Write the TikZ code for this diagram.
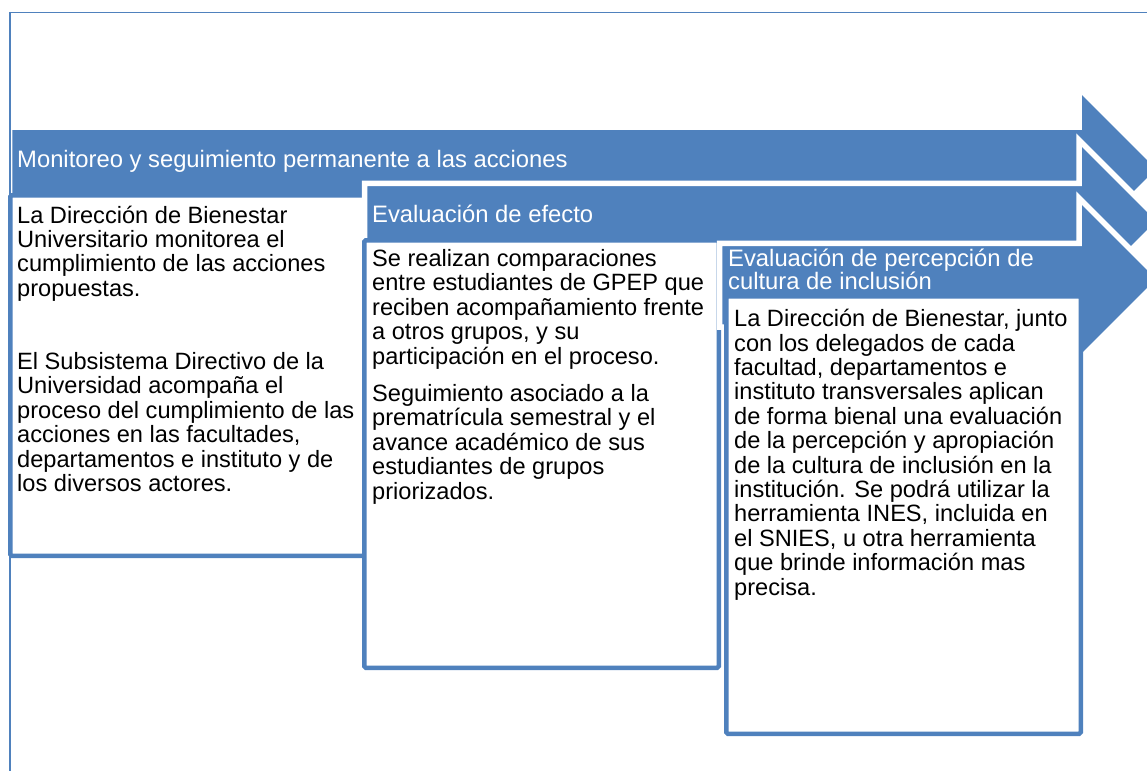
\documentclass[tikz,border=0pt]{standalone}
\usepackage{fontspec}
\setmainfont{Liberation Sans}
\definecolor{stageblue}{HTML}{4F81BD}

\begin{document}
\begin{tikzpicture}[
        x=1pt, y=-1pt,
        % Define Styles
        arrowshape/.style={fill=stageblue, draw=white, line width=5.5pt, line join=miter},
        textbox/.style={draw=stageblue, fill=white, line width=4.5pt, rounded corners=1.5pt},
        frameline/.style={draw=stageblue},
        stagetitle/.style={anchor=base west, inner sep=0pt, text=white, align=left, font=\fontsize{23.8}{22.6}\selectfont},
        stagetext/.style={anchor=base west, inner sep=0pt, text=black, align=left, font=\fontsize{23.6}{24.4}\selectfont}
    ]

    \useasboundingbox (0,0) rectangle (1147,771);
    \clip (0,0) rectangle (1147,771);

    % --- STAGE 1 ---
    \filldraw[arrowshape] (9.5,127) -- (1079,127) -- (1079,88) -- (1160,169) -- (1079,250) -- (1079,211) -- (9.5,211) -- cycle;

    % --- OUTER FRAME (only top and left edges show) ---
    \draw[frameline, line width=1.3pt] (10,12.5) -- (1147,12.5);
    \draw[frameline, line width=2.5pt] (10,11.85) -- (10,771);

    \draw[textbox] (10.25,195.25) rectangle (364.75,555.75);

    % --- STAGE 2 ---
    \filldraw[arrowshape] (364.5,183.25) -- (1079,183.25) -- (1079,140) -- (1160,221) -- (1079,302) -- (1079,258.5) -- (364.5,258.5) -- cycle;
    \draw[textbox] (364.25,240.25) rectangle (718.75,667.75);

    % --- STAGE 3 ---
    \filldraw[arrowshape] (719.5,243.25) -- (1079,243.25) -- (1079,198) -- (1160,279) -- (1079,360) -- (1079,327) -- (719.5,327) -- cycle;
    \draw[textbox] (726.25,296.25) rectangle (1080.75,733.75);

    % --- TITLES (placed at the baseline of their last line) ---
    \node[stagetitle] (title1) at (17,167) {Monitoreo y seguimiento permanente a las acciones};
    \node[stagetitle] (title2) at (372,222.5) {Evaluación de efecto};
    \node[stagetitle] (title3) at (728,289.3) {Evaluación de percepción de\\cultura de inclusión};

    % --- BODY TEXTS (placed at the baseline of their last line) ---
    \node[stagetext] (body1) at (17,491.5) {La Dirección de Bienestar\\
        Universitario monitorea el\\
        cumplimiento de las acciones\\
        propuestas.\\[48.8pt]
        El Subsistema Directivo de la\\
        Universidad acompaña el\\
        proceso del cumplimiento de las\\
        acciones en las facultades,\\
        departamentos e instituto y de\\
        los diversos actores.};

    \node[stagetext] (body2) at (372,499) {Se realizan comparaciones\\
        entre estudiantes de GPEP que\\
        reciben acompañamiento frente\\
        a otros grupos, y su\\
        participación en el proceso.\\[13pt]
        Seguimiento asociado a la\\
        prematrícula semestral y el\\
        avance académico de sus\\
        estudiantes de grupos\\
        priorizados.};

    \node[stagetext] (body3) at (734,595) {La Dirección de Bienestar, junto\\
        con los delegados de cada\\
        facultad, departamentos e\\
        instituto transversales aplican\\
        de forma bienal una evaluación\\
        de la percepción y apropiación\\
        de la cultura de inclusión en la\\
        institución. Se podrá utilizar la\\
        herramienta INES, incluida en\\
        el SNIES, u otra herramienta\\
        que brinde información mas\\
        precisa.};

\end{tikzpicture}
\end{document}
